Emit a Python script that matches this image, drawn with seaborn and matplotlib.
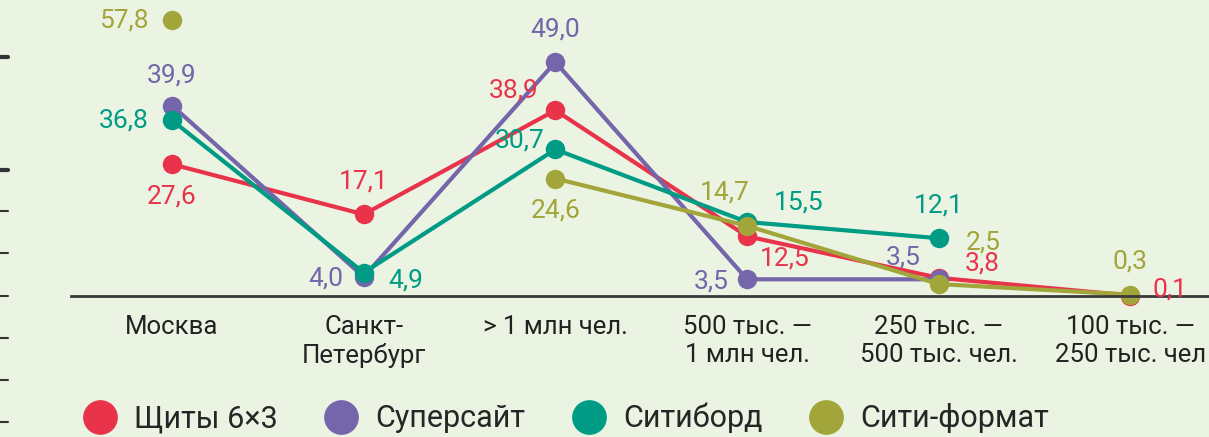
import numpy as np
import pandas as pd
import seaborn as sns
import matplotlib.pyplot as plt
from matplotlib.lines import Line2D

# data
categories = ["Москва", "Санкт-\nПетербург", "> 1 млн чел.", "500 тыс. —\n1 млн чел.",
              "250 тыс. —\n500 тыс. чел.", "100 тыс. —\n250 тыс. чел"]
series = ["Щиты 6×3", "Суперсайт", "Ситиборд", "Сити-формат"]
shields = [27.6, 17.1, 38.9, 12.5, 3.8, 0.1]
supersite = [39.9, 4.0, 49.0, 3.5, 3.5, np.nan]
cityboard = [36.8, 4.9, 30.7, 15.5, 12.1, np.nan]
cityformat = [57.8, np.nan, 24.6, 14.7, 2.5, 0.3]

colors = ["#e8334a", "#7565ab", "#009b84", "#a2a53a"]
bg = "#ebf4e2"

# label offsets (px) relative to each marker
label_pos = {
    "Щиты 6×3": [(0, -32), (0, 33), (-42, 20), (38, -22), (44, 14), (40, 6)],
    "Суперсайт": [(0, 30), (-38, -2), (0, 33), (-36, -2), (-36, 22), None],
    "Ситиборд": [(-48, 0), (42, -8), (-36, 9), (52, 20), (0, 33), None],
    "Сити-формат": [(-48, 0), None, (0, -32), (-22, 33), (44, 42), (0, 33)],
}

rows = []
for name, vals in zip(series, [shields, supersite, cityboard, cityformat]):
    seg = 0
    for i, v in enumerate(vals):
        if np.isnan(v):
            seg += 1
            continue
        rows.append({"series": name, "x": i, "value": v, "seg": f"{name}-{seg}"})
df = pd.DataFrame(rows)

sns.set_style("white")
plt.rcParams["font.family"] = ["Roboto", "DejaVu Sans"]

W, H = 1209, 437
fig = plt.figure(figsize=(W / 100, H / 100), dpi=100, facecolor=bg)
ax = fig.add_axes([71 / W, 1 - 296 / H, (W - 71) / W, 296 / H])
ax.set_facecolor(bg)

palette = dict(zip(series, colors))
for name in series:
    sub = df[df.series == name]
    sns.lineplot(data=sub, x="x", y="value", units="seg", estimator=None,
                 color=palette[name], lw=3, marker="o", markersize=14,
                 markeredgewidth=0, ax=ax, legend=False, clip_on=False)

ax.set_xlim(-0.527, 5.41)
ax.set_ylim(0, 62)

# value labels
for name, vals in zip(series, [shields, supersite, cityboard, cityformat]):
    for i, v in enumerate(vals):
        off = label_pos[name][i]
        if np.isnan(v) or off is None:
            continue
        ax.annotate(f"{v:.1f}".replace(".", ","), (i, v), xytext=(off[0] * 0.72, off[1] * 0.72),
                    textcoords="offset points", ha="center", va="center",
                    color=palette[name], fontsize=19)

for s in ["left", "right", "top"]:
    ax.spines[s].set_visible(False)
ax.spines["bottom"].set_color("#3a3a3a")
ax.spines["bottom"].set_linewidth(2)
ax.set_yticks([])
ax.set_xticks(range(len(categories)))
ax.set_xticklabels(categories, fontsize=18.5, color="#222222", linespacing=1.2)
ax.tick_params(axis="x", length=0, pad=14)
ax.set_xlabel("")
ax.set_ylabel("")

# small dashes at the left edge
for y, lw in [(57, 3), (170, 3), (211, 1.5), (253, 1.5), (296, 1.5), (338, 1.5), (380, 1.5), (422, 1.5)]:
    fig.add_artist(Line2D([0, 8 / W], [1 - y / H] * 2, color="#333333", lw=lw,
                          solid_capstyle="round"))

handles = [Line2D([], [], ls="", marker="o", markersize=25, markeredgewidth=0,
                  color=c) for c in colors]
fig.legend(handles, series, loc="center left", bbox_to_anchor=(76 / W, 1 - 418 / H),
           ncol=4, frameon=False, fontsize=22, handletextpad=0.35, handlelength=1.55,
           columnspacing=1.3, borderpad=0, borderaxespad=0)

fig.savefig("out.png", dpi=100, facecolor=bg)
